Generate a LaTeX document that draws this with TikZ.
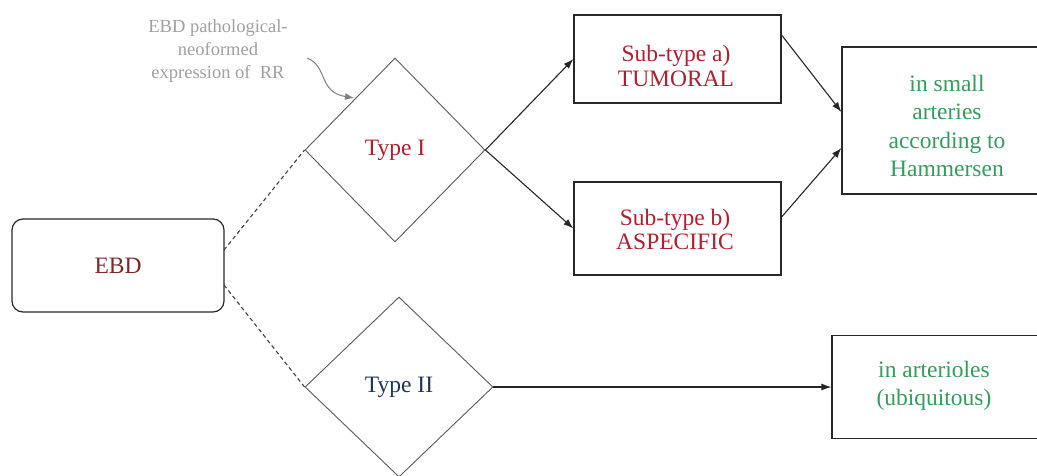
\documentclass[tikz,border=0pt]{standalone}
\usepackage{fontspec}
\setmainfont{LiberationSerif}[Extension=.ttf, UprightFont=*-Regular, BoldFont=*-Bold, ItalicFont=*-Italic, BoldItalicFont=*-BoldItalic]
\usetikzlibrary{shapes.geometric,arrows.meta}
\definecolor{ebdred}{RGB}{125,40,45}
\definecolor{typered}{RGB}{172,32,48}
\definecolor{typeblue}{RGB}{35,55,85}
\definecolor{greentxt}{RGB}{55,155,95}
\definecolor{annot}{RGB}{160,160,160}
\definecolor{edge}{RGB}{40,40,40}
\begin{document}
\begin{tikzpicture}[x=1pt,y=-1pt,
  txt/.style={font=\fontsize{23.5}{25}\selectfont, align=center, inner sep=0pt},
  boxnode/.style={draw=edge, line width=1.2pt, inner sep=0pt},
  dia/.style={draw=black!65, line width=0.9pt, shape=diamond, inner sep=0pt, font=\fontsize{23.5}{25}\selectfont},
  conn/.style={draw=black!85, line width=1.1pt, -{Latex[length=10pt,width=7pt]}},
  dashconn/.style={draw=black!75, line width=1.1pt, dashed, dash pattern=on 4pt off 3pt}
]
\useasboundingbox (0,0) rectangle (1037,475);
\fill[white] (0,0) rectangle (1037,475);

% EBD
\node[boxnode, rounded corners=11pt, minimum width=212pt, minimum height=93pt, font=\fontsize{23.5}{25}\selectfont, text=ebdred] (ebd) at (118,265.5) {EBD};

% diamonds
\node[dia, minimum width=180pt, minimum height=184pt, text=typered] (t1) at (395,150) {Type I};
\node[dia, minimum width=188pt, minimum height=180pt, text=typeblue] (t2) at (399,387) {Type II};

% subtype boxes
\node[boxnode, minimum width=207pt, minimum height=88pt] (sa) at (677.5,59) {};
\node[txt, text=typered] (sat) at (676,65.5) {Sub-type a)\\TUMORAL};
\node[boxnode, minimum width=207pt, minimum height=93pt] (sb) at (677.5,228.5) {};
\node[txt, text=typered, font=\fontsize{23.5}{23.5}\selectfont] (sbt) at (675,229.5) {Sub-type b)\\ASPECIFIC};

% target boxes
\node[boxnode, minimum width=210pt, minimum height=147pt] (ham) at (947,120.5) {};
\node[txt, text=greentxt, font=\fontsize{23.5}{28.5}\selectfont] (hamt) at (947,126) {in small\\arteries\\according to\\Hammersen};
\node[boxnode, minimum width=206pt, minimum height=103pt] (art) at (935,387) {};
\node[txt, text=greentxt, font=\fontsize{23.5}{28}\selectfont] (artt) at (934,386) {in arterioles\\(ubiquitous)};

% annotation
\node[text=annot, font=\fontsize{18.5}{23}\selectfont, align=center, inner sep=0pt] (note) at (218,51) {EBD pathological-\\neoformed\\expression of~~RR};
\coordinate (ns) at (307,58);
\draw[annot!80!black, line width=1pt, -{Latex[length=9pt,width=7pt]}] (ns) .. controls (328,66) and (318,92) .. (354,98);

% dashed connectors
\coordinate (e1) at (224,250);
\coordinate (e2) at (224,285);
\draw[dashconn] (e1) -- (t1.west);
\draw[dashconn] (e2) -- (t2.west);

% arrows
\draw[conn] (t1.east) -- (sa.west);
\draw[conn] (t1.east) -- (sb.west);
\draw[conn] (sa.east |- 0,35) -- (ham.west |- 0,112);
\draw[conn] (sb.east |- 0,217) -- (ham.west |- 0,148);
\draw[conn] (t2.east) -- (art.west);
\end{tikzpicture}
\end{document}
